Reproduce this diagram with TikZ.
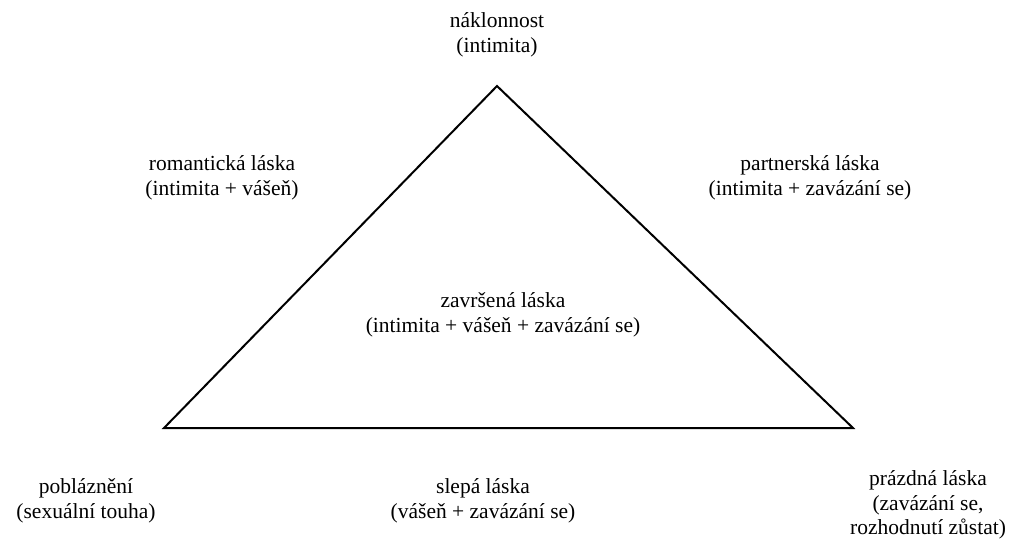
\documentclass[tikz,border=0pt]{standalone}
\usepackage{fontspec}
\setmainfont{Liberation Serif}
\begin{document}
\begin{tikzpicture}[x=1pt,y=-1pt,
  lbl/.style={align=center,inner sep=0pt,font=\fontsize{21.5}{24.5}\selectfont},
  edge/.style={line width=2pt,line join=miter}]
\useasboundingbox (0,0) rectangle (1016,539);
\coordinate (A) at (497,86);
\coordinate (L) at (164,428);
\coordinate (R) at (853,428);
\draw[edge] (A) -- (L) -- (R) -- cycle;
\node[lbl] (top) at (497,35) {náklonnost\\(intimita)};
\node[lbl] (rom) at (222,178) {romantická láska\\(intimita + vášeň)};
\node[lbl] (par) at (810,178) {partnerská láska\\(intimita + zavázání se)};
\node[lbl] (zav) at (503,315) {završená láska\\(intimita + vášeň + zavázání se)};
\node[lbl] (pob) at (86,501) {pobláznění\\(sexuální touha)};
\node[lbl] (sle) at (483,501) {slepá láska\\(vášeň + zavázání se)};
\node[lbl] (pra) at (928,505) {prázdná láska\\(zavázání se,\\rozhodnutí zůstat)};
\end{tikzpicture}
\end{document}
